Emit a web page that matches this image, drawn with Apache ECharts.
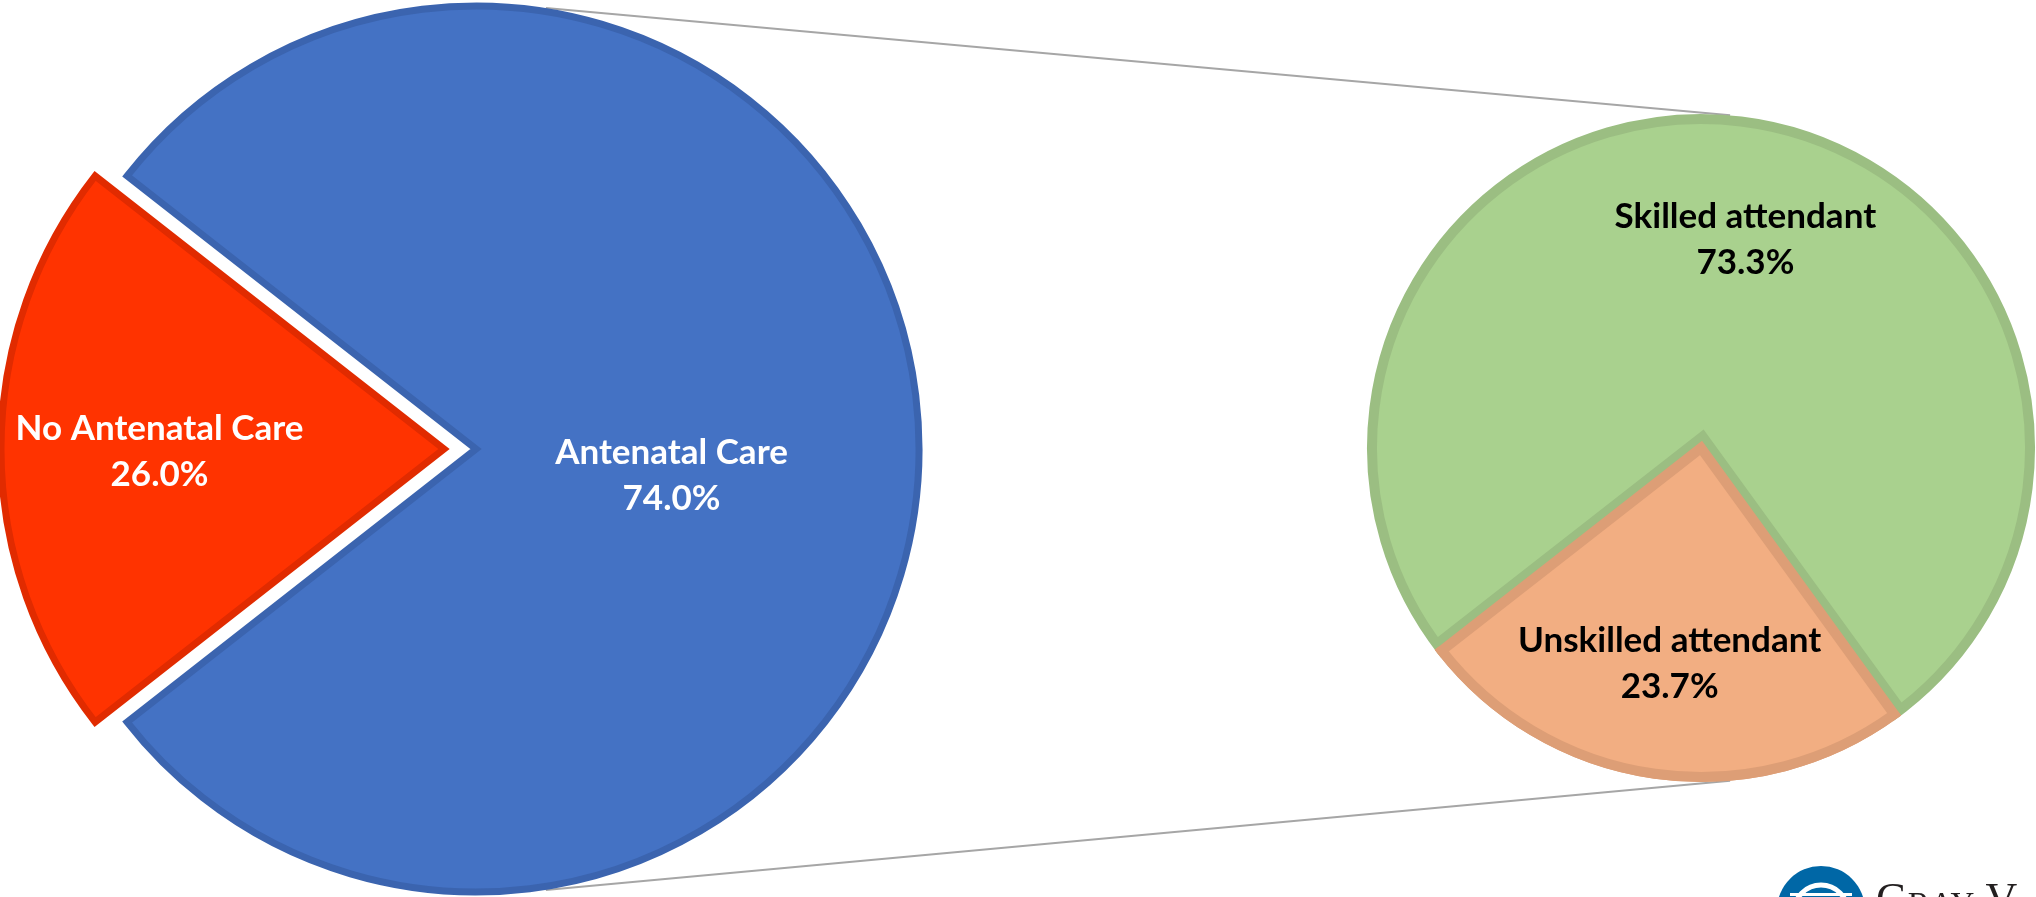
<!DOCTYPE html>
<html>
<head>
<meta charset="utf-8">
<script src="https://cdn.jsdelivr.net/npm/echarts@6/dist/echarts.min.js"></script>
<style>
html,body{margin:0;padding:0;background:#ffffff;overflow:hidden}
#c{width:2036px;height:897px}
</style>
</head>
<body>
<div id="c"></div>
<script>
// ---------------- DATA ----------------
// First pie: no antenatal care vs. the aggregated "Antenatal Care" slice (sum of second pie)
const careCategories = ['No Antenatal Care', 'Antenatal Care'];
const careLabels = ['26.0%', '74.0%'];
const noCareValue = 26.0;
// Second pie: breakdown of antenatal care by attendant
const attendantCategories = ['Skilled attendant', 'Unskilled attendant'];
const attendantValues = [73.3, 23.7];
const attendantLabels = ['73.3%', '23.7%'];

// ---------------- LAYOUT / STYLE ----------------
const LEFT = { cx: 476, cy: 449, r: 443, bw: 7, offset: 32 };
const RIGHT = { cx: 1701, cy: 448, r: 329, bw: 10, startAngle: 218, innerBand: 8 };
const careColors = [
  { fill: '#FF3300', border: '#E12B00' },
  { fill: '#4472C4', border: '#3B64AF' }
];
const attendantColors = [
  { fill: '#A9D18E', border: '#9BBE82' },
  { fill: '#F2AE82', border: '#DD9E76' }
];
const FONT = 'Lato, "Open Sans", "DejaVu Sans", sans-serif';
const NONE = 'rgba(0,0,0,0)';

const aggregated = attendantValues.reduce((a, b) => a + b, 0);
const leftValues = [noCareValue, aggregated];
const leftTotal = leftValues[0] + leftValues[1];
const leftStart = 180 + 180 * leftValues[0] / leftTotal;

const careLabelOffsets = [[-60, 3], [-29, 27]];
const attendantLabelOffsets = [[21, -42], [-8, 50]];

function styleFor(c, bw) {
  return { color: c.fill, borderColor: c.border, borderWidth: bw, borderJoin: 'miter', opacity: 1 };
}

const leftData = careCategories.map((name, i) => ({
  name: name,
  value: leftValues[i],
  selected: i === 0,
  itemStyle: styleFor(careColors[i], LEFT.bw),
  label: { offset: careLabelOffsets[i] },
  select: { itemStyle: styleFor(careColors[i], LEFT.bw), label: { offset: careLabelOffsets[i] } }
}));

// base layer of the second pie
const rightBase = attendantCategories.map((name, i) => ({
  name: name,
  value: attendantValues[i],
  itemStyle: styleFor(attendantColors[i], RIGHT.bw)
}));
// band of the first slice's border along the shared edges
const rightBand = attendantCategories.map((name, i) => ({
  name: name,
  value: attendantValues[i],
  itemStyle: i === 0
    ? { color: NONE, borderWidth: 0 }
    : { color: NONE, borderColor: attendantColors[0].border, borderWidth: 2 * (RIGHT.bw / 2 + RIGHT.innerBand), borderJoin: 'miter' }
}));
// top layer: second slice redrawn + labels
const rightTop = attendantCategories.map((name, i) => ({
  name: name,
  value: attendantValues[i],
  itemStyle: i === 0 ? { color: NONE, borderWidth: 0 } : styleFor(attendantColors[i], RIGHT.bw),
  label: { offset: attendantLabelOffsets[i] }
}));

// connector lines between the two pies (from geometry)
function onCircle(p, outerR, deg) {
  const a = deg * Math.PI / 180;
  return [p.cx + outerR * Math.cos(a), p.cy - outerR * Math.sin(a)];
}
const lOuter = LEFT.r + LEFT.bw / 2;
const rOuter = RIGHT.r + RIGHT.bw / 2;
const topA = onCircle(LEFT, lOuter, 81), topB = onCircle(RIGHT, rOuter, 85);
const botA = onCircle(LEFT, lOuter, -81), botB = onCircle(RIGHT, rOuter, -85);

const rightCommon = {
  type: 'pie',
  center: [RIGHT.cx, RIGHT.cy],
  startAngle: RIGHT.startAngle,
  clockwise: true,
  avoidLabelOverlap: false,
  emphasis: { disabled: true },
  labelLine: { show: false },
  silent: true
};

const chart = echarts.init(document.getElementById('c'), null, { renderer: 'canvas' });
chart.setOption({
  animation: false,
  backgroundColor: '#ffffff',
  graphic: [
    { type: 'line', z: 0, silent: true, shape: { x1: topA[0], y1: topA[1], x2: topB[0], y2: topB[1] },
      style: { stroke: '#A6A6A6', lineWidth: 2 } },
    { type: 'line', z: 0, silent: true, shape: { x1: botA[0], y1: botA[1], x2: botB[0], y2: botB[1] },
      style: { stroke: '#A6A6A6', lineWidth: 2 } },
    { type: 'circle', z: 0, silent: true, shape: { cx: 1821, cy: 910, r: 44 }, style: { fill: '#0067A6' } },
    { type: 'circle', z: 0, silent: true, shape: { cx: 1821, cy: 912, r: 27 }, style: { fill: 'none', stroke: '#ffffff', lineWidth: 5 } },
    { type: 'rect', z: 0, silent: true, shape: { x: 1790, y: 893, width: 62, height: 3 }, style: { fill: '#ffffff' } },
    { type: 'text', z: 0, silent: true, x: 1876, y: 879,
      style: { text: '{a|G}{b|RAY}{a| V}', verticalAlign: 'top', fill: '#231F20',
        rich: { a: { fontFamily: '"Liberation Serif", serif', fontSize: 44, fill: '#231F20', verticalAlign: 'bottom' },
                b: { fontFamily: '"Liberation Serif", serif', fontSize: 33, fill: '#231F20', verticalAlign: 'bottom' } } } }
  ],
  series: [
    {
      type: 'pie',
      center: [LEFT.cx, LEFT.cy],
      radius: [0, LEFT.r],
      startAngle: leftStart,
      clockwise: true,
      selectedMode: 'multiple',
      selectedOffset: LEFT.offset,
      avoidLabelOverlap: false,
      emphasis: { disabled: true },
      labelLine: { show: false },
      label: {
        show: true,
        position: 'inside',
        formatter: p => careCategories[p.dataIndex] + '\n' + careLabels[p.dataIndex],
        color: '#ffffff',
        fontFamily: FONT,
        fontWeight: 'bold',
        fontSize: 35,
        lineHeight: 46,
        align: 'center'
      },
      data: leftData
    },
    Object.assign({}, rightCommon, {
      radius: [0, RIGHT.r],
      label: { show: false },
      data: rightBase
    }),
    Object.assign({}, rightCommon, {
      radius: [0, RIGHT.r - RIGHT.bw / 2 - RIGHT.innerBand],
      label: { show: false },
      data: rightBand
    }),
    Object.assign({}, rightCommon, {
      radius: [0, RIGHT.r],
      label: {
        show: true,
        position: 'inside',
        formatter: p => attendantCategories[p.dataIndex] + '\n' + attendantLabels[p.dataIndex],
        color: '#000000',
        fontFamily: FONT,
        fontWeight: 'bold',
        fontSize: 35,
        lineHeight: 46,
        align: 'center'
      },
      data: rightTop
    })
  ]
});
</script>
</body>
</html>
